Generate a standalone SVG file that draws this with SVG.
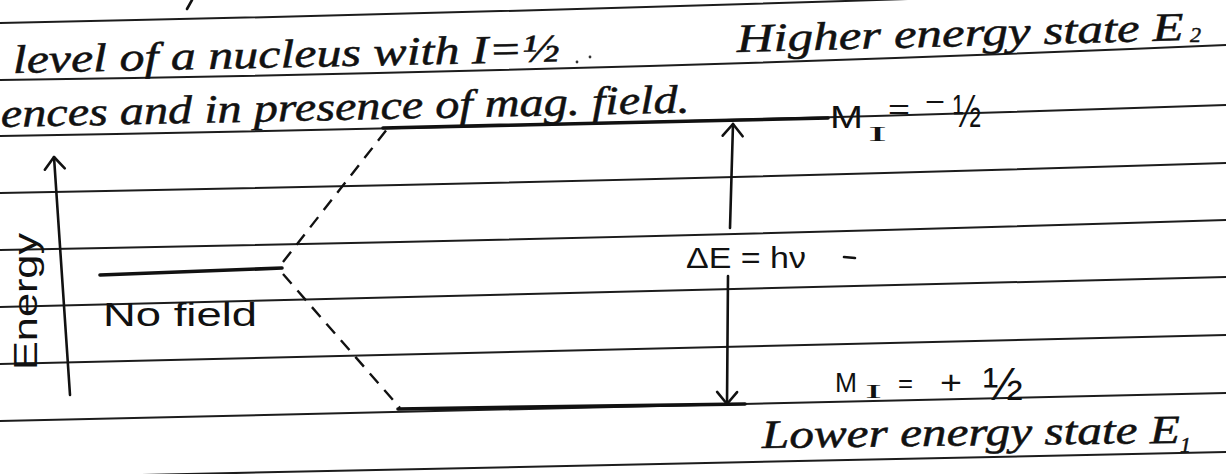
<svg xmlns="http://www.w3.org/2000/svg" width="1226" height="474" viewBox="0 0 1226 474">
<defs>
<style>
.rule{fill:none;stroke:#1c1c1c;stroke-width:2}
.ink{fill:none;stroke:#111;stroke-width:2.6;stroke-linecap:round}
.level{fill:none;stroke:#111;stroke-width:3.6;stroke-linecap:round}
.dash{fill:none;stroke:#111;stroke-width:2.4;stroke-dasharray:13 9}
.hand{font-family:"Liberation Serif",serif;font-style:italic;fill:#111;stroke:#111;stroke-width:0.5}
.print{font-family:"Liberation Sans",sans-serif;fill:#111}
.serif{font-family:"Liberation Serif",serif;fill:#111}
</style>
<marker id="chev" viewBox="-15 -13 18 26" refX="0" refY="0" markerWidth="18" markerHeight="26" markerUnits="userSpaceOnUse" orient="auto" overflow="visible">
<path d="M-12,-10 L0,0 L-12,10" fill="none" stroke="#111" stroke-width="2.6" stroke-linecap="round" stroke-linejoin="round"/>
</marker>
</defs>
<rect width="1226" height="474" fill="#ffffff"/>
<g id="ruled-lines">
<path class="rule" d="M0,23 Q613,10.5 1226,-12"/>
<path class="rule" d="M0,80 Q613,71.5 1226,45"/>
<path class="rule" d="M0,136 Q613,125.5 1226,105"/>
<path class="rule" d="M0,193 Q613,182 1226,163"/>
<path class="rule" d="M0,250 Q613,239 1226,220"/>
<path class="rule" d="M0,307 Q613,294 1226,277"/>
<path class="rule" d="M0,364 Q613,350.5 1226,335"/>
<path class="rule" d="M0,421 Q613,407 1226,393"/>
<path class="rule" d="M0,478 Q613,465 1226,452"/>
<path class="ink" d="M192,0 L187,9"/>
</g>
<g id="header-text">
<text class="hand" x="13" y="73" font-size="40" textLength="547" lengthAdjust="spacingAndGlyphs" transform="rotate(-1.2 13 73)">level of a nucleus with I=½</text>
<circle cx="577" cy="62" r="1.4" fill="#333"/>
<circle cx="590" cy="57" r="1.4" fill="#333"/>
<text class="hand" x="1" y="127" font-size="40" textLength="689" lengthAdjust="spacingAndGlyphs" transform="rotate(-1.2 1 127)">ences and in presence of mag. field.</text>
</g>
<g id="label-higher">
<text class="hand" x="737" y="52" font-size="40" textLength="447" lengthAdjust="spacingAndGlyphs" transform="rotate(-1.5 737 52)">Higher energy state E</text>
<text class="hand" x="1190" y="42" font-size="22">2</text>
</g>
<g id="label-lower">
<text class="hand" x="762" y="448" font-size="40" textLength="418" lengthAdjust="spacingAndGlyphs" transform="rotate(-0.7 762 448)">Lower energy state E</text>
<text class="hand" x="1180" y="452" font-size="22">1</text>
</g>
<g id="energy-axis">
<path class="ink" d="M70,395 L54,157" stroke-width="3" marker-end="url(#chev)"/>
<text class="print" font-size="33" textLength="137" lengthAdjust="spacingAndGlyphs" transform="translate(37,370) rotate(-90)">Energy</text>
</g>
<g id="level-nofield">
<path class="level" d="M100,275 L282,268"/>
<text class="print" x="103" y="326" font-size="33" textLength="154" lengthAdjust="spacingAndGlyphs">No field</text>
</g>
<g id="level-upper">
<path class="level" d="M383,128 L828,118"/>
<text class="print" x="830" y="128" font-size="32" textLength="33" lengthAdjust="spacingAndGlyphs">M</text>
<text class="serif" x="868" y="141" font-size="20" textLength="19" lengthAdjust="spacingAndGlyphs">I</text>
<text class="print" x="888" y="119" font-size="28" textLength="22" lengthAdjust="spacingAndGlyphs">=</text>
<text class="print" x="925" y="111" font-size="28" textLength="20" lengthAdjust="spacingAndGlyphs">−</text>
<text class="print" x="953" y="127" font-size="46" textLength="28" lengthAdjust="spacingAndGlyphs">½</text>
</g>
<g id="level-lower">
<path class="level" d="M398,409 L745,404"/>
<text class="print" x="835" y="392" font-size="28" textLength="22" lengthAdjust="spacingAndGlyphs">M</text>
<text class="serif" x="865" y="398" font-size="18" textLength="17" lengthAdjust="spacingAndGlyphs">I</text>
<text class="print" x="898" y="392" font-size="26" textLength="15" lengthAdjust="spacingAndGlyphs">=</text>
<text class="print" x="940" y="394" font-size="34" textLength="22" lengthAdjust="spacingAndGlyphs">+</text>
<text class="print" x="983" y="400" font-size="46" textLength="40" lengthAdjust="spacingAndGlyphs">½</text>
</g>
<g id="connectors">
<path class="dash" d="M283,262 L388,128"/>
<path class="dash" d="M283,274 L400,408"/>
<path class="ink" d="M730,228 L733,124" marker-end="url(#chev)"/>
<path class="ink" d="M728,276 L727,404" marker-end="url(#chev)"/>
<text class="print" x="686" y="268" font-size="29" textLength="120" lengthAdjust="spacingAndGlyphs">ΔE = hν</text>
<path class="ink" d="M844,257 L855,258" stroke-width="2"/>
</g>
</svg>
